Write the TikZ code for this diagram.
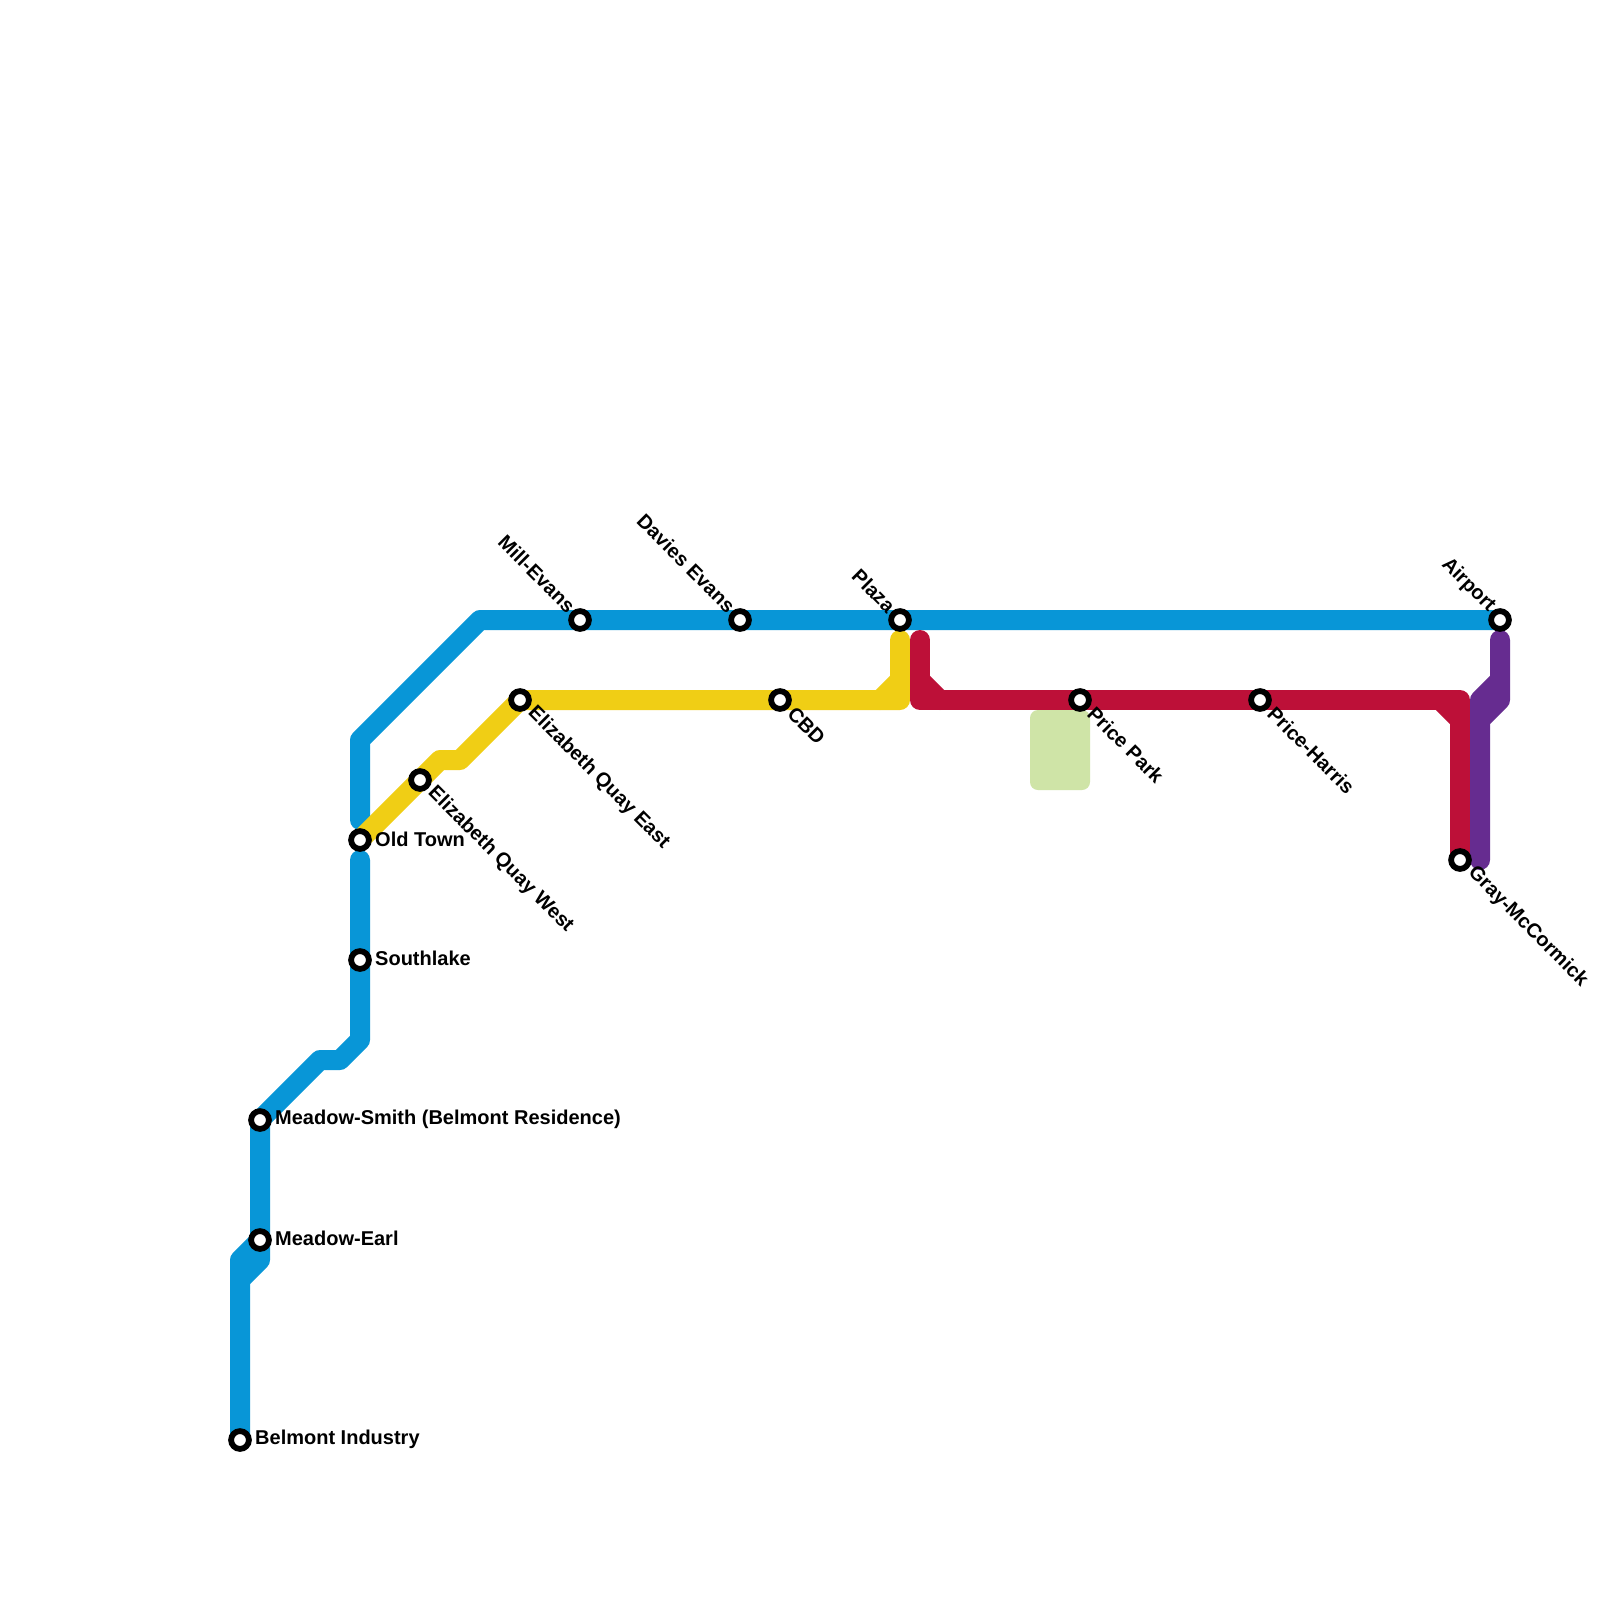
\documentclass[tikz,border=0pt]{standalone}
\usepackage{fontspec}
\setmainfont{Liberation Sans}[BoldFont={Liberation Sans Bold}]
\pgfdeclarelayer{lines}
\pgfsetlayers{lines,main}
\definecolor{lblue}{HTML}{0896D7}
\definecolor{lyellow}{HTML}{F0CE15}
\definecolor{lred}{HTML}{BD1038}
\definecolor{lpurple}{HTML}{662C90}
\definecolor{parkgreen}{HTML}{CFE4A7}
\tikzset{
  x=1pt,y=-1pt,
  metroline/.style={line width=20pt,line cap=round,line join=round},
  stn/.style={circle,draw=black,fill=white,line width=5.8pt,minimum size=17.8pt,inner sep=0pt,outer sep=0pt},
  lab/.style={font=\bfseries\fontsize{20}{22}\selectfont,text=black,inner sep=0pt},
  labse/.style={lab,rotate=-45,anchor=west},
  labnw/.style={lab,rotate=-45,anchor=east},
  labe/.style={lab,anchor=west},
}
\begin{document}
\begin{tikzpicture}
\useasboundingbox (0,0) rectangle (1600,1600);
% stations
\node[stn] (belmont) at (240,1440) {};
\node[stn] (earl) at (260,1240) {};
\node[stn] (smith) at (260,1120) {};
\node[stn] (southlake) at (360,960) {};
\node[stn] (oldtown) at (360,840) {};
\node[stn] (eqw) at (420,780) {};
\node[stn] (eqe) at (520,700) {};
\node[stn] (mill) at (580,620) {};
\node[stn] (davies) at (740,620) {};
\node[stn] (cbd) at (780,700) {};
\node[stn] (plaza) at (900,620) {};
\node[stn] (pricepark) at (1080,700) {};
\node[stn] (priceharris) at (1260,700) {};
\node[stn] (gray) at (1460,860) {};
\node[stn] (airport) at (1500,620) {};
% labels
\node[labe] (lbelmont) at (255,1439) {Belmont Industry};
\node[labe] (learl) at (275,1238.5) {Meadow-Earl};
\node[labe] (lsmith) at (275,1119.5) {Meadow-Smith (Belmont Residence)};
\node[labe] (lsouth) at (375,958.5) {Southlake};
\node[labe] (lold) at (375,839) {Old Town};
\node[labse] (leqw) at (431,790) {Elizabeth Quay West};
\node[labse] (leqe) at (531,710) {Elizabeth Quay East};
\node[labse] (lcbd) at (791,710) {CBD};
\node[labse] (lpp) at (1091,710) {Price Park};
\node[labse] (lph) at (1271,710) {Price-Harris};
\node[labse] (lgray) at (1471,870) {Gray-McCormick};
\node[labnw] (lmill) at (572,609) {Mill-Evans};
\node[labnw] (ldavies) at (732,609) {Davies Evans};
\node[labnw] (lplaza) at (892,609) {Plaza};
\node[labnw] (lairport) at (1492,609) {Airport};
% bends
\coordinate (b1) at (240,1260);
\coordinate (b2) at (240,1280);
\coordinate (b3) at (260,1260);
\coordinate (b4) at (320,1060);
\coordinate (b5) at (340,1060);
\coordinate (b6) at (360,1040);
\coordinate (b7) at (360,860);
\coordinate (b8) at (360,820);
\coordinate (b9) at (360,740);
\coordinate (b10) at (480,620);
\coordinate (y1) at (440,760);
\coordinate (y2) at (460,760);
\coordinate (y3) at (900,700);
\coordinate (y4) at (900,640);
\coordinate (y5) at (880,700);
\coordinate (y6) at (900,680);
\coordinate (r1) at (920,640);
\coordinate (r2) at (920,700);
\coordinate (r3) at (920,680);
\coordinate (r4) at (940,700);
\coordinate (r5) at (1460,700);
\coordinate (r6) at (1440,700);
\coordinate (r7) at (1460,720);
\coordinate (p1) at (1480,860);
\coordinate (p2) at (1480,700);
\coordinate (p3) at (1500,680);
\coordinate (p4) at (1500,640);
\coordinate (p5) at (1500,700);
\coordinate (p6) at (1480,720);
\begin{pgfonlayer}{lines}
\fill[white] (0,0) rectangle (1600,1600);
\fill[parkgreen,rounded corners=8pt] (1030,710) rectangle (1090,790);
\draw[metroline,lblue] (belmont.center) -- (b1) -- (earl.center) -- (smith.center) -- (b4) -- (b5) -- (b6) -- (southlake.center) -- (b7);
\draw[metroline,lblue] (b2) -- (b3) -- (earl.center);
\draw[metroline,lblue] (b8) -- (b9) -- (b10) -- (mill.center) -- (davies.center) -- (plaza.center) -- (airport.center);
\draw[metroline,lyellow] (oldtown.center) -- (eqw.center) -- (y1) -- (y2) -- (eqe.center) -- (cbd.center) -- (y3) -- (y4);
\draw[metroline,lyellow] (y5) -- (y6);
\draw[metroline,lred] (r1) -- (r2) -- (pricepark.center) -- (priceharris.center) -- (r5) -- (gray.center);
\draw[metroline,lred] (r3) -- (r4);
\draw[metroline,lred] (r6) -- (r7);
\draw[metroline,lpurple] (p1) -- (p2) -- (p3) -- (p4) -- (p5) -- (p6);
\end{pgfonlayer}
\end{tikzpicture}
\end{document}
